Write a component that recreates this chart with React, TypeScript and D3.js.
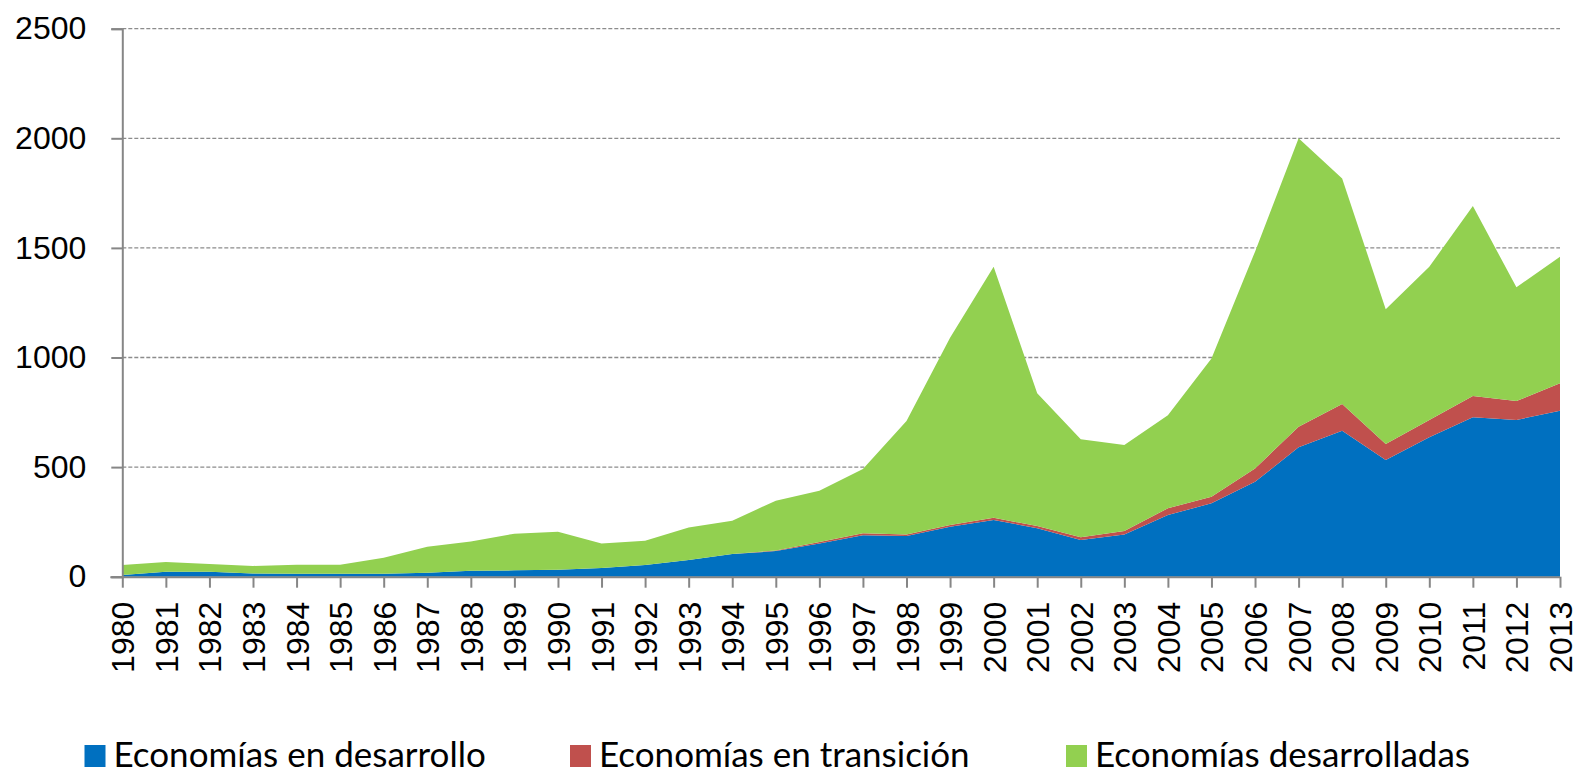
import React, { useEffect, useRef } from 'react';
import * as d3 from 'd3';

const years = [1980, 1981, 1982, 1983, 1984, 1985, 1986, 1987, 1988, 1989, 1990, 1991, 1992, 1993, 1994, 1995, 1996,
  1997, 1998, 1999, 2000, 2001, 2002, 2003, 2004, 2005, 2006, 2007, 2008, 2009, 2010, 2011, 2012, 2013];
const enDesarrollo = [8, 23, 23, 15, 14, 13, 14, 18, 27, 29, 32, 40, 53, 76, 103, 117, 152,
  189, 186, 228, 259, 221, 167, 193, 281, 335, 433, 590, 666, 532, 636, 727, 715, 757];
const enTransicion = [0, 0, 0, 0, 0, 0, 0, 0, 0, 0, 0, 0, 0, 0, 0, 3, 6,
  9, 7, 8, 10, 10, 13, 15, 31, 30, 61, 94, 122, 73, 79, 97, 86, 125];
const desarrolladas = [45, 44, 35, 34, 41, 42, 73, 119, 134, 167, 173, 112, 111, 149, 152, 227, 234,
  293, 517, 854, 1145, 606, 447, 393, 424, 631, 989, 1316, 1029, 615, 699, 867, 519, 578];
const yTicks = [0, 500, 1000, 1500, 2000, 2500];
const seriesNames = ['Economías en desarrollo', 'Economías en transición', 'Economías desarrolladas'];
const seriesColors = ['#0070C0', '#C0504D', '#92D050'];

function App() {
  const ref = useRef<SVGSVGElement>(null);

  useEffect(() => {
    const left = 122.3;
    const right = 1560;
    const top = 28.7;
    const bottom = 576.7;

    const svg = d3.select(ref.current);
    svg.selectAll('*').remove();

    const x = d3.scaleLinear().domain([1980, 2013]).range([left, right]);
    const y = d3.scaleLinear().domain([0, 2500]).range([bottom, top]);

    const rows = years.map((yr, i) => ({
      year: yr,
      a: enDesarrollo[i],
      b: enTransicion[i],
      c: desarrolladas[i],
    }));
    const stacked = d3.stack<any>().keys(['a', 'b', 'c'])(rows);

    // gridlines
    svg.append('g')
      .selectAll('line')
      .data(yTicks.filter((d) => d > 0))
      .enter()
      .append('line')
      .attr('x1', left)
      .attr('x2', right)
      .attr('y1', (d) => y(d))
      .attr('y2', (d) => y(d))
      .attr('stroke', '#8c8c8c')
      .attr('stroke-width', 1.3)
      .attr('stroke-dasharray', '4,2');

    const area = d3.area<any>()
      .x((d) => x(d.data.year))
      .y0((d) => y(d[0]))
      .y1((d) => y(d[1]));

    svg.append('g')
      .selectAll('path')
      .data(stacked)
      .enter()
      .append('path')
      .attr('d', area)
      .attr('fill', (d, i) => seriesColors[i]);

    // y axis
    const yAxis = svg.append('g')
      .attr('transform', `translate(${left},0)`)
      .call(d3.axisLeft(y).tickValues(yTicks).tickSize(11).tickPadding(25).tickFormat(d3.format('d')));
    yAxis.select('.domain').attr('stroke', '#868686').attr('stroke-width', 2);
    yAxis.selectAll('.tick line').attr('stroke', '#868686').attr('stroke-width', 2);
    yAxis.selectAll('text')
      .attr('font-family', '"Liberation Sans", Arial, sans-serif')
      .attr('font-size', 32)
      .attr('fill', '#000');

    // x axis
    const xAxis = svg.append('g')
      .attr('transform', `translate(0,${bottom})`)
      .call(d3.axisBottom(x).tickValues(years).tickSize(11).tickSizeOuter(0).tickFormat(d3.format('d')));
    xAxis.select('.domain').attr('stroke', '#868686').attr('stroke-width', 2).attr('d', `M${left - 12},0.5H${right}`);
    xAxis.selectAll('.tick line').attr('stroke', '#868686').attr('stroke-width', 2);
    xAxis.selectAll('text')
      .attr('font-family', '"Liberation Sans", Arial, sans-serif')
      .attr('font-size', 32)
      .attr('fill', '#000')
      .attr('text-anchor', 'end')
      .attr('transform', 'rotate(-90)')
      .attr('x', -25)
      .attr('y', 0)
      .attr('dy', '0.36em');

    // legend
    const legendX = [84.5, 570, 1066];
    const lg = svg.append('g')
      .selectAll('g')
      .data(seriesNames)
      .enter()
      .append('g')
      .attr('transform', (d, i) => `translate(${legendX[i]},0)`);
    lg.append('rect')
      .attr('x', 0)
      .attr('y', 745)
      .attr('width', 21)
      .attr('height', 22)
      .attr('fill', (d, i) => seriesColors[i]);
    lg.append('text')
      .attr('x', 29)
      .attr('y', 767)
      .attr('font-family', 'Lato, "Open Sans", sans-serif')
      .attr('font-size', 35)
      .attr('fill', '#000')
      .text((d) => d);
  }, []);

  return (
    <svg ref={ref} width={1577} height={771} style={{ position: 'absolute', left: 0, top: 0, background: '#fff' }} />
  );
}

export default App;
